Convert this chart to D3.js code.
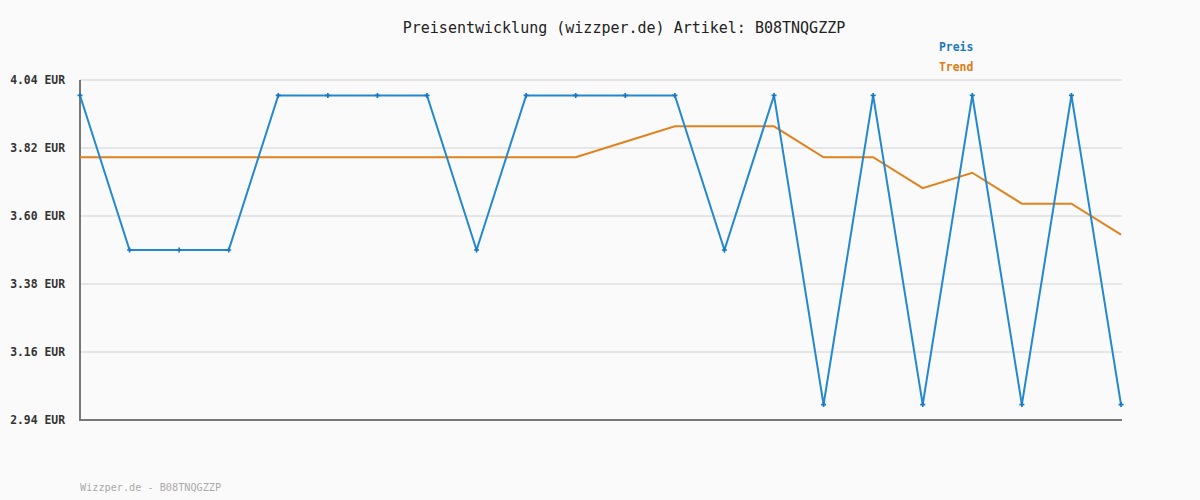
<!DOCTYPE html>
<html>
<head>
<meta charset="utf-8">
<script src="https://cdn.jsdelivr.net/npm/d3@7"></script>
<style>
  body { margin: 0; background: #fafafa; }
  text { font-family: "DejaVu Sans Mono", monospace; }
</style>
</head>
<body>
<div id="vis"></div>
<script>
// price data
var preis = [3.99, 3.49, 3.49, 3.49, 3.99, 3.99, 3.99, 3.99, 3.49, 3.99, 3.99,
             3.99, 3.99, 3.49, 3.99, 2.99, 3.99, 2.99, 3.99, 2.99, 3.99, 2.99];
var trend = [3.79, 3.79, 3.79, 3.79, 3.79, 3.79, 3.79, 3.79, 3.79, 3.79, 3.79,
             3.84, 3.89, 3.89, 3.89, 3.79, 3.79, 3.69, 3.74, 3.64, 3.64, 3.54];
var yTicks = [2.94, 3.16, 3.38, 3.60, 3.82, 4.04];
var article = "B08TNQGZZP";

var width = 1200, height = 500;
var margin = {top: 80, right: 79, bottom: 80, left: 80};

var svg = d3.select("#vis").append("svg")
  .attr("width", width)
  .attr("height", height)
  .style("background", "#fafafa");

var x = d3.scaleLinear().domain([0, preis.length - 1]).range([margin.left, width - margin.right]);
var y = d3.scaleLinear().domain([2.94, 4.04]).range([height - margin.bottom, margin.top]);

// grid lines
svg.append("g")
  .selectAll("line")
  .data(yTicks)
  .enter().append("line")
  .attr("x1", margin.left)
  .attr("x2", width - margin.right + 1)
  .attr("y1", function(d) { return y(d); })
  .attr("y2", function(d) { return y(d); })
  .attr("stroke", "#e6e6e6")
  .attr("stroke-width", 2);

// y labels
svg.append("g")
  .selectAll("text")
  .data(yTicks)
  .enter().append("text")
  .attr("x", 65)
  .attr("y", function(d) { return y(d) + 4; })
  .attr("text-anchor", "end")
  .attr("font-size", "11.4px")
  .attr("font-weight", "bold")
  .attr("fill", "#333")
  .text(function(d) { return d.toFixed(2) + " EUR"; });

// axes
svg.append("line")
  .attr("x1", margin.left).attr("x2", margin.left)
  .attr("y1", margin.top).attr("y2", height - margin.bottom + 1)
  .attr("stroke", "#777").attr("stroke-width", 2);
svg.append("line")
  .attr("x1", margin.left - 1).attr("x2", width - margin.right + 1)
  .attr("y1", height - margin.bottom).attr("y2", height - margin.bottom)
  .attr("stroke", "#777").attr("stroke-width", 2);

var line = d3.line()
  .x(function(d, i) { return x(i); })
  .y(function(d) { return y(d); });

svg.append("path")
  .datum(trend)
  .attr("d", line)
  .attr("fill", "none")
  .attr("stroke", "#e0821e")
  .attr("stroke-width", 2);

svg.append("path")
  .datum(preis)
  .attr("d", line)
  .attr("fill", "none")
  .attr("stroke", "#2288d0")
  .attr("stroke-width", 2);

// small point markers
svg.append("g")
  .selectAll("path")
  .data(preis)
  .enter().append("path")
  .attr("d", d3.symbol().type(d3.symbolCross).size(14))
  .attr("transform", function(d, i) { return "translate(" + x(i) + "," + y(d) + ")"; })
  .attr("fill", "#1a78c2");

// title
svg.append("text")
  .attr("x", 624)
  .attr("y", 33)
  .attr("text-anchor", "middle")
  .attr("font-size", "15px")
  .attr("fill", "#222")
  .text("Preisentwicklung (wizzper.de) Artikel: " + article);

// legend
svg.append("text")
  .attr("x", 939).attr("y", 51)
  .attr("font-size", "11.4px").attr("font-weight", "bold")
  .attr("fill", "#1a78c2")
  .text("Preis");
svg.append("text")
  .attr("x", 939).attr("y", 71)
  .attr("font-size", "11.4px").attr("font-weight", "bold")
  .attr("fill", "#dd7a10")
  .text("Trend");

// footer
svg.append("text")
  .attr("x", 80).attr("y", 491)
  .attr("font-size", "10.2px")
  .attr("fill", "#aaa")
  .text("Wizzper.de - " + article);
</script>
</body>
</html>
